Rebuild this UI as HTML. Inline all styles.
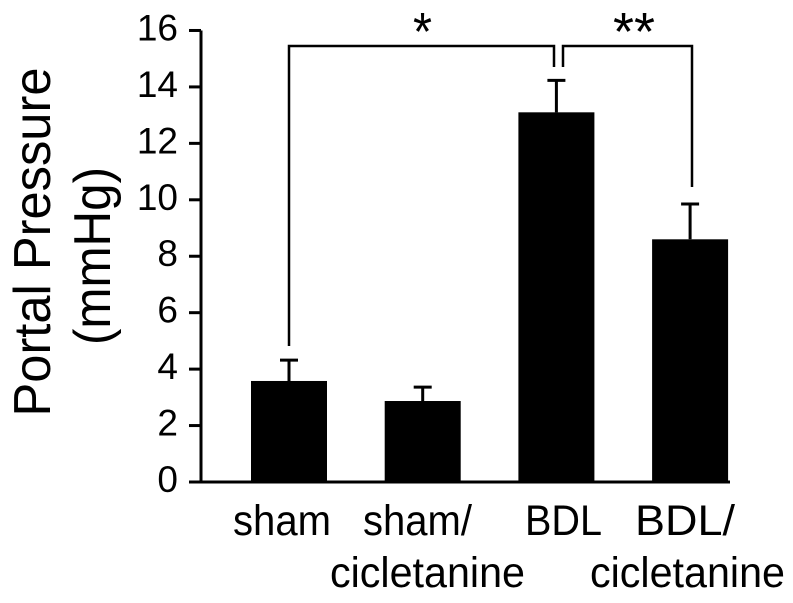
<!DOCTYPE html>
<html><head><meta charset="utf-8"><style>
html,body{margin:0;padding:0;background:#fff;}
svg text{font-family:"Liberation Sans",Arial,sans-serif;fill:#000;}
</style></head><body>
<svg id="chart" width="793" height="598" viewBox="0 0 793 598" xmlns="http://www.w3.org/2000/svg">
<g id="axes"></g>
<g id="bars"></g>
<g id="sig"></g>
<text transform="translate(50,242) rotate(-90)" text-anchor="middle" font-size="52" textLength="349" lengthAdjust="spacingAndGlyphs">Portal Pressure</text>
<text transform="translate(110,256) rotate(-90)" text-anchor="middle" font-size="52" textLength="178" lengthAdjust="spacingAndGlyphs">(mmHg)</text>
<text x="233" y="535" font-size="43" textLength="98" lengthAdjust="spacingAndGlyphs">sham</text>
<text x="363" y="535" font-size="43" textLength="109" lengthAdjust="spacingAndGlyphs">sham/</text>
<text x="330" y="587" font-size="43" textLength="195" lengthAdjust="spacingAndGlyphs">cicletanine</text>
<text x="525" y="535" font-size="43" textLength="77" lengthAdjust="spacingAndGlyphs">BDL</text>
<text x="635" y="535" font-size="43" textLength="100" lengthAdjust="spacingAndGlyphs">BDL/</text>
<text x="590" y="587" font-size="43" textLength="195" lengthAdjust="spacingAndGlyphs">cicletanine</text>
</svg>
<script>
const categories = ["sham","sham/cicletanine","BDL","BDL/cicletanine"];
const values = [3.58, 2.87, 13.1, 8.6];
const errors = [0.74, 0.49, 1.13, 1.25];
const yTicks = [0,2,4,6,8,10,12,14,16];

const NS="http://www.w3.org/2000/svg";
function y(v){return 482 - v*28.22;}
function xc(i){return 289 + i*133.7;}
const BW=76;
function mk(tag, attrs, parent){const e=document.createElementNS(NS,tag);for(const k in attrs)e.setAttribute(k,attrs[k]);parent.appendChild(e);return e;}
const axes=document.getElementById('axes');
const bars=document.getElementById('bars');
const sig=document.getElementById('sig');

let e=mk('line',{x1:201,x2:201,y1:y(16),y2:y(0)+1.5,stroke:'#000','stroke-width':3},axes);


e=mk('line',{x1:189,x2:730,y1:y(0),y2:y(0),stroke:'#000','stroke-width':3},axes);


yTicks.forEach(t=>{
  const l=mk('line',{x1:189,x2:201,y1:y(t),y2:y(t),stroke:'#000','stroke-width':3},axes);
  
  
  const tx=mk('text',{x:178,y:y(t)+10,'text-anchor':'end','font-size':37},axes);
  tx.textContent=String(t);
  
  
});
values.forEach((v,i)=>{
  const cx=xc(i);
  const r=mk('rect',{x:cx-BW/2,y:y(v),width:BW,height:y(0)-y(v),fill:'#000'},bars);
  
  
  const top=y(v+errors[i]);
  const eb=mk('path',{d:`M${cx},${y(v)} V${top} M${cx-9},${top} H${cx+9}`,stroke:'#000','stroke-width':3,fill:'none'},bars);
  
  
});
const b1=mk('path',{d:`M${xc(0)},346 V46 H554 V67`,stroke:'#000','stroke-width':2.5,fill:'none'},sig);


const b2=mk('path',{d:`M563,67 V46 H692 V187`,stroke:'#000','stroke-width':2.5,fill:'none'},sig);


const s1=mk('text',{x:413,y:50,'font-size':54,textLength:19,lengthAdjust:'spacingAndGlyphs'},sig);
s1.textContent='*';


const s2=mk('text',{x:613,y:50,'font-size':54,textLength:42,lengthAdjust:'spacingAndGlyphs'},sig);
s2.textContent='**';


</script>
</body></html>
